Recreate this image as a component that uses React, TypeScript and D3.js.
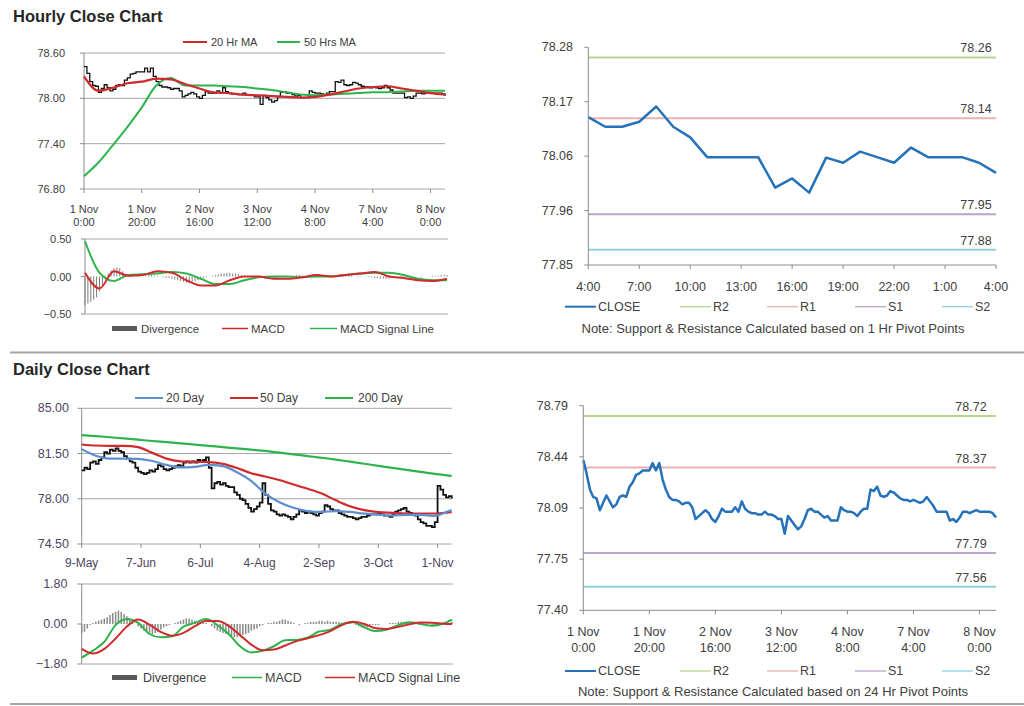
import React from "react";
import * as d3 from "d3";

const FONT = "'Liberation Sans', Arial, Helvetica, sans-serif";
const TXT = "#404040";
const DAILY_TXT = "#4d4560";
const AXIS = "#8c8c8c";
const GRID = "#a6a6a6";
const RED = "#cf2a2c";
const GREEN = "#2fb34d";
const BLUE_MA = "#5d8fd0";
const CLOSE_BLUE = "#2672ba";
const DIV_GRAY = "#7a7a7a";

// ---------------- Hourly (1 Nov 0:00 -> 8 Nov ~5:00), one value per hour ----------------
const hourlyTickLabels = [
  ["1 Nov", "0:00"], ["1 Nov", "20:00"], ["2 Nov", "16:00"], ["3 Nov", "12:00"],
  ["4 Nov", "8:00"], ["7 Nov", "4:00"], ["8 Nov", "0:00"],
];
const hourlyTickEvery = 20;
const hourlyYTicks = [76.8, 77.4, 78.0, 78.6];
const hourlyMacdTicks = [-0.5, 0, 0.5];

const hourlyClose = [
  78.42, 78.33, 78.22, 78.17, 78.16, 78.08, 78.13, 78.18, 78.14, 78.10,
  78.12, 78.17, 78.18, 78.17, 78.24, 78.27, 78.32, 78.33, 78.35, 78.35,
  78.35, 78.40, 78.35, 78.40, 78.29, 78.22, 78.17, 78.15, 78.15, 78.14,
  78.12, 78.13, 78.13, 78.10, 78.02, 78.04, 78.06, 78.08, 78.06, 78.02,
  78.00, 78.04, 78.09, 78.07, 78.07, 78.07, 78.10, 78.07, 78.14, 78.09,
  78.07, 78.06, 78.06, 78.05, 78.05, 78.07, 78.05, 78.05, 78.04, 78.02,
  78.02, 77.92, 78.04, 78.01, 77.98, 77.95, 77.97, 78.02, 78.08, 78.09,
  78.07, 78.07, 78.05, 78.03, 78.04, 78.01, 78.01, 78.01, 78.10, 78.08,
  78.07, 78.07, 78.06, 78.04, 78.07, 78.09, 78.09, 78.22, 78.21, 78.24,
  78.18, 78.17, 78.18, 78.21, 78.20, 78.18, 78.16, 78.15, 78.15, 78.14,
  78.15, 78.14, 78.13, 78.14, 78.17, 78.14, 78.11, 78.07, 78.07, 78.07,
  78.07, 78.01, 78.02, 78.00, 78.03, 78.07, 78.07, 78.06, 78.07, 78.08,
  78.07, 78.07, 78.07, 78.07, 78.06, 78.03,
];

// moving averages / MACD lines sampled every 5 hours
const hourlyLineStep = 5;
const hourlyMa20 = [
  78.29, 78.10, 78.14, 78.20, 78.22, 78.26, 78.25, 78.19, 78.13, 78.08,
  78.07, 78.05, 78.04, 78.03, 78.02, 78.01, 78.02, 78.05, 78.09, 78.13,
  78.15, 78.16, 78.13, 78.10, 78.07, 78.05,
];
const hourlyMa50 = [
  76.97, 77.15, 77.38, 77.62, 77.88, 78.17, 78.27, 78.17, 78.17, 78.17,
  78.16, 78.15, 78.13, 78.11, 78.08, 78.05, 78.04, 78.05, 78.06, 78.07,
  78.08, 78.08, 78.09, 78.10, 78.10, 78.10,
];
const hourlyMacd = [
  0.05, -0.16, 0.07, 0.01, 0.02, 0.07, 0.05, -0.05, -0.12, -0.12,
  -0.05, 0.0, 0.0, -0.03, -0.03, -0.01, 0.02, 0.0, 0.02, 0.04,
  0.06, 0.0, -0.02, -0.05, -0.06, -0.03,
];
const hourlySignal = [
  0.47, 0.05, -0.06, 0.02, 0.03, 0.04, 0.06, 0.04, -0.03, -0.10,
  -0.10, -0.05, -0.01, 0.0, 0.0, -0.01, 0.0, 0.0, 0.02, 0.04,
  0.05, 0.05, 0.02, -0.03, -0.05, -0.05,
];
const hourlyDivergence = [
  -0.38, -0.36, -0.34, -0.31, -0.28, -0.20, -0.12,
  -0.04, 0.04, 0.08, 0.11, 0.12, 0.11, 0.07,
  0.03, 0.01, -0.01, 0.0, 0.01, 0.01, 0.0,
  0.01, 0.02, 0.02, 0.01, 0.01, 0.0, -0.01,
  -0.02, -0.02, -0.03, -0.04, -0.05, -0.06, -0.07,
  -0.08, -0.08, -0.07, -0.06, -0.05, -0.04, -0.02,
  -0.01, 0.0, 0.01, 0.02, 0.03, 0.04, 0.04,
  0.05, 0.05, 0.04, 0.04, 0.03, 0.02, 0.01,
  0.0, 0.0, -0.01, -0.01, -0.02, -0.02, -0.03,
  -0.03, -0.03, -0.02, -0.02, -0.01, -0.01, 0.0,
  0.0, 0.01, 0.01, 0.02, 0.02, 0.01, 0.01,
  0.0, 0.01, 0.01, 0.0, 0.0, 0.01, 0.01,
  0.0, 0.01, 0.01, 0.02, 0.02, 0.02, 0.02,
  0.01, 0.01, 0.0, 0.01, 0.01, 0.0, 0.0,
  -0.01, -0.01, -0.02, -0.02, -0.03, -0.03, -0.03,
  -0.03, -0.02, -0.02, -0.02, -0.01, -0.01, -0.01,
  -0.01, 0.0, 0.0, 0.0, -0.01, 0.0, 0.0,
  0.0, 0.01, 0.01, 0.01, 0.02, 0.02, 0.02,
];

// ---------------- Last 24 hours (1 Hr pivots) ----------------
const last24TickLabels = ["4:00", "7:00", "10:00", "13:00", "16:00", "19:00", "22:00", "1:00", "4:00"];
const last24TickEvery = 3;
const last24Close = [
  78.142, 78.123, 78.123, 78.133, 78.163, 78.123, 78.102, 78.063, 78.063, 78.063,
  78.063, 78.003, 78.021, 77.993, 78.062, 78.052, 78.074, 78.063, 78.052, 78.082,
  78.063, 78.063, 78.063, 78.052, 78.032,
];
const last24AxisLabels = ["77.85", "77.96", "78.06", "78.17", "78.28"];
const last24Domain = [77.85, 78.28];

const pivotNames = ["R2", "R1", "S1", "S2"];
const pivotColors = ["#b7d58e", "#eab2b1", "#b9a5cd", "#8fd0df"];
const pivot1hValues = [78.26, 78.14, 77.95, 77.88];
const pivot24hValues = [78.72, 78.37, 77.79, 77.56];

// ---------------- 24 Hr pivot chart (hourly closes, same week) ----------------
const week24AxisLabels = ["77.40", "77.75", "78.09", "78.44", "78.79"];
const week24Domain = [77.4, 78.79];

// ---------------- Daily (9 May -> 8 Nov, trading days) ----------------
const dailyTickLabels = ["9-May", "7-Jun", "6-Jul", "4-Aug", "2-Sep", "3-Oct", "1-Nov"];
const dailyTickEvery = 21;
const dailyYTicks = [74.5, 78.0, 81.5, 85.0];
const dailyMacdTicks = [-1.8, 0, 1.8];

const dailyClose = [
  80.2, 80.4, 80.3, 80.8, 80.9, 80.7, 81.0, 81.2, 81.6, 81.5,
  81.8, 81.7, 81.9, 81.7, 81.6, 81.3, 81.1, 80.9, 80.8, 80.4,
  80.1, 80.0, 79.9, 80.0, 80.2, 80.1, 80.3, 80.6, 80.5, 80.3,
  80.2, 80.3, 80.4, 80.5, 80.6, 80.5, 80.8, 80.9, 80.8, 80.9,
  80.8, 81.0, 80.9, 81.0, 81.2, 80.4, 78.8, 79.2, 79.3, 79.1,
  79.2, 79.0, 78.9, 78.9, 78.5, 78.3, 78.0, 77.9, 77.6, 77.3,
  77.0, 77.2, 77.4, 77.7, 79.2, 78.3, 77.6, 77.1, 77.0, 76.8,
  76.7, 76.8, 76.7, 76.6, 76.4, 76.6, 76.8, 77.1, 77.0, 76.9,
  77.0, 76.9, 76.8, 76.7, 76.9, 77.0, 77.5, 77.4, 77.2, 77.1,
  77.1, 76.9, 76.8, 76.7, 76.6, 76.6, 76.5, 76.4, 76.5, 76.6,
  76.6, 76.7, 76.8, 76.8, 76.8, 76.9, 76.8, 76.7, 76.7, 76.6,
  76.8, 77.0, 77.1, 77.2, 77.3, 77.0, 76.9, 76.8, 76.7, 76.4,
  76.2, 76.1, 75.9, 75.9, 75.8, 76.2, 79.0, 78.7, 78.3, 78.1,
  78.2, 78.0,
];

// moving averages at trading days 0,5,...,130 and 131
const dailyMaDays = [0, 5, 10, 15, 20, 25, 30, 35, 40, 45, 50, 55, 60, 65, 70, 75, 80, 85, 90, 95, 100, 105, 110, 115, 120, 125, 130, 131];
const daily20 = [
  81.84, 81.33, 81.11, 81.11, 81.08, 80.92, 80.62, 80.43, 80.47, 80.63,
  80.52, 80.05, 79.38, 78.40, 77.73, 77.30, 77.05, 76.98, 77.05, 76.98,
  76.85, 76.77, 76.70, 76.76, 76.76, 76.68, 77.05, 77.12,
];
const daily50 = [
  82.20, 82.12, 82.10, 82.10, 82.00, 81.55, 81.11, 80.90, 80.85, 80.84,
  80.70, 80.38, 79.98, 79.72, 79.45, 79.10, 78.77, 78.40, 77.88, 77.42,
  77.12, 76.97, 76.91, 76.86, 76.86, 76.86, 76.95, 76.97,
];
const daily200 = [
  82.93, 82.85, 82.76, 82.67, 82.57, 82.47, 82.38, 82.29, 82.19, 82.10,
  81.99, 81.90, 81.80, 81.70, 81.57, 81.44, 81.30, 81.17, 81.03, 80.87,
  80.71, 80.55, 80.39, 80.24, 80.08, 79.93, 79.79, 79.76,
];

// daily MACD at trading days 0,4,...,128 and 131
const dailyMacdDays = [0, 4, 8, 12, 16, 20, 24, 28, 32, 36, 40, 44, 48, 52, 56, 60, 64, 68, 72, 76, 80, 84, 88, 92, 96, 100, 104, 108, 112, 116, 120, 124, 128, 131];
const dailyMacd = [
  -1.51, -1.20, -0.80, -0.05, 0.22, 0.05, -0.45, -0.60, -0.55, -0.12,
  0.05, 0.22, -0.05, -0.45, -1.00, -1.28, -1.20, -1.00, -0.73, -0.72,
  -0.60, -0.34, -0.26, 0.0, 0.08, -0.15, -0.32, -0.25, -0.05, 0.08,
  0.0, -0.08, 0.02, 0.20,
];
const dailySignal = [
  -1.12, -1.33, -1.12, -0.65, -0.11, 0.20, -0.03, -0.36, -0.53, -0.40,
  -0.10, 0.14, 0.13, -0.08, -0.50, -0.93, -1.18, -1.15, -0.97, -0.77,
  -0.64, -0.50, -0.32, -0.05, 0.10, 0.0, -0.19, -0.22, -0.13, -0.01,
  0.07, 0.06, 0.01, 0.0,
];
const dailyDivergence = [
  -0.4, -0.35, -0.2, -0.05, 0.05, 0.1, 0.15, 0.2, 0.25, 0.3,
  0.4, 0.5, 0.55, 0.6, 0.55, 0.45, 0.35, 0.2, 0.1, 0.0,
  -0.1, -0.2, -0.3, -0.35, -0.4, -0.45, -0.4, -0.35, -0.25, -0.15,
  -0.1, -0.05, 0.0, 0.05, 0.1, 0.15, 0.2, 0.25, 0.25, 0.2,
  0.15, 0.1, 0.1, 0.05, 0.05, 0.0, -0.1, -0.2, -0.3, -0.35,
  -0.4, -0.45, -0.5, -0.55, -0.6, -0.6, -0.55, -0.5, -0.45, -0.4,
  -0.3, -0.25, -0.2, -0.1, -0.05, 0.0, 0.05, 0.05, 0.1, 0.1,
  0.15, 0.2, 0.2, 0.15, 0.1, 0.05, 0.0, -0.05, 0.0, 0.05,
  0.05, 0.1, 0.1, 0.1, 0.15, 0.15, 0.1, 0.15, 0.1, 0.1,
  0.1, 0.1, 0.05, 0.05, 0.05, 0.05, 0.0, -0.05, -0.1, -0.15,
  -0.15, -0.15, -0.1, -0.05, -0.05, -0.05, 0.0, 0.0, 0.0, 0.05,
  0.05, 0.05, 0.1, 0.1, 0.1, 0.1, 0.05, 0.05, 0.0, 0.0,
  -0.05, -0.05, 0.0, 0.0, -0.05, -0.1, 0.05, 0.0, 0.05, 0.0,
  0.05, 0.1,
];

// ---------------- helpers ----------------
type Scale = d3.ScaleLinear<number, number>;

function path(xs: number[], ys: number[], x: Scale, y: Scale, curve: d3.CurveFactory = d3.curveLinear) {
  const pts: [number, number][] = ys.map((v, i) => [xs[i], v]);
  return d3.line<[number, number]>().x((d) => x(d[0])).y((d) => y(d[1])).curve(curve)(pts) || "";
}
const idx = (arr: number[], step = 1) => arr.map((_, i) => i * step);

function LegendLine({ x1, x2, y, color, label, tx, size, width = 2 }: any) {
  return (
    <g>
      <line x1={x1} x2={x2} y1={y} y2={y} stroke={color} strokeWidth={width} />
      <text x={tx} y={y} dominantBaseline="central" fontSize={size} fill={TXT}>{label}</text>
    </g>
  );
}

function LeftYAxis({ x, y, ticks, labelX, size, fmt, grid, gridX2, color = TXT }: any) {
  const [r0, r1] = y.range();
  return (
    <g>
      {ticks.map((t: number) => (
        grid ? <line key={"g" + t} x1={x} x2={gridX2} y1={y(t)} y2={y(t)} stroke={GRID} strokeWidth={1} /> : null
      ))}
      <line x1={x} x2={x} y1={Math.min(r0, r1)} y2={Math.max(r0, r1)} stroke={AXIS} strokeWidth={1} />
      {ticks.map((t: number, i: number) => (
        <g key={t}>
          <line x1={x - 4} x2={x} y1={y(t)} y2={y(t)} stroke={AXIS} strokeWidth={1} />
          <text x={labelX} y={y(t)} textAnchor="end" dominantBaseline="central" fontSize={size} fill={color}>
            {typeof fmt === "function" ? fmt(t, i) : d3.format(".2f")(t)}
          </text>
        </g>
      ))}
    </g>
  );
}

function PivotPanel({ x0, x1, yTop, yBot, domain, axisLabels, closeVals, lastIdx, tickEvery, tickLabels, twoLine, pivots, labelCx, legendY, noteY, note, labelX, xLabelY }: any) {
  const x = d3.scaleLinear().domain([0, lastIdx]).range([x0, x1]);
  const y = d3.scaleLinear().domain(domain).range([yBot, yTop]);
  const step = (domain[1] - domain[0]) / (axisLabels.length - 1);
  const tickVals = axisLabels.map((_: string, i: number) => domain[0] + i * step);
  const xt = d3.range(0, lastIdx + 1, tickEvery);
  const size = 12.5;
  const legend = [
    { name: "CLOSE", color: CLOSE_BLUE, w: 2 },
    ...pivotNames.map((n, i) => ({ name: n, color: pivotColors[i], w: 1.3 })),
  ];
  const legX = [565, 680, 767, 855, 942];
  return (
    <g>
      {pivots.map((v: number, i: number) => (
        <g key={pivotNames[i]}>
          <line x1={x0} x2={x1} y1={y(v)} y2={y(v)} stroke={pivotColors[i]} strokeWidth={2} />
          <text x={labelCx} y={y(v) - 9} textAnchor="middle" dominantBaseline="central" fontSize={size} fill={TXT}>
            {v.toFixed(2)}
          </text>
        </g>
      ))}
      <path d={path(idx(closeVals), closeVals, x, y)} fill="none" stroke={CLOSE_BLUE} strokeWidth={2.5} strokeLinejoin="round" />
      <LeftYAxis x={x0} y={y} ticks={tickVals} labelX={labelX} size={size} fmt={(_: number, i: number) => axisLabels[i]} />
      <line x1={x0} x2={x1} y1={yBot} y2={yBot} stroke={AXIS} strokeWidth={1} />
      {xt.map((t: number, i: number) => (
        <g key={t}>
          <line x1={x(t)} x2={x(t)} y1={yBot} y2={yBot + 4} stroke={AXIS} strokeWidth={1} />
          {twoLine ? (
            <>
              <text x={x(t)} y={xLabelY} textAnchor="middle" dominantBaseline="central" fontSize={size} fill={TXT}>{tickLabels[i][0]}</text>
              <text x={x(t)} y={xLabelY + 16} textAnchor="middle" dominantBaseline="central" fontSize={size} fill={TXT}>{tickLabels[i][1]}</text>
            </>
          ) : (
            <text x={x(t)} y={xLabelY} textAnchor="middle" dominantBaseline="central" fontSize={size} fill={TXT}>{tickLabels[i]}</text>
          )}
        </g>
      ))}
      {legend.map((l, i) => (
        <LegendLine key={l.name} x1={legX[i]} x2={legX[i] + 31} y={legendY} color={l.color} label={l.name} tx={legX[i] + 33} size={size} width={l.w} />
      ))}
      <text x={773} y={noteY} textAnchor="middle" dominantBaseline="central" fontSize={13} fill={TXT}>{note}</text>
    </g>
  );
}

export default function App() {
  // hourly price
  const hx = d3.scaleLinear().domain([0, hourlyClose.length - 1]).range([84, 445]);
  const hy = d3.scaleLinear().domain([76.8, 78.6]).range([189, 53]);
  const hTicks = d3.range(0, hourlyClose.length, hourlyTickEvery);
  // hourly MACD
  const mx = d3.scaleLinear().domain([0, hourlyClose.length - 1]).range([85, 447]);
  const my = d3.scaleLinear().domain([-0.5, 0.5]).range([314, 239]);
  // daily
  const dx = d3.scaleLinear().domain([0, dailyClose.length - 1]).range([81.7, 451.7]);
  const dy = d3.scaleLinear().domain([74.5, 85]).range([544, 408.3]);
  const dTicks = d3.range(0, dailyClose.length, dailyTickEvery);
  const ddx = d3.scaleLinear().domain([0, dailyClose.length - 1]).range([81.7, 452]);
  const ddy = d3.scaleLinear().domain([-1.8, 1.8]).range([664, 584]);

  const hStep = idx(hourlyMa20, hourlyLineStep);
  const smooth = d3.curveMonotoneX;

  return (
    <svg width={1024} height={706} style={{ position: "absolute", left: 0, top: 0, fontFamily: FONT, background: "#fff" }}>
      <rect width={1024} height={706} fill="#ffffff" />
      {/* titles */}
      <text x={13} y={16} dominantBaseline="central" fontSize={16.5} fontWeight="bold" fill="#262626">Hourly Close Chart</text>
      <text x={13} y={369} dominantBaseline="central" fontSize={16.5} fontWeight="bold" fill="#262626">Daily Close Chart</text>
      {/* separators */}
      <line x1={10} x2={1024} y1={352.5} y2={352.5} stroke="#a6a6a6" strokeWidth={2} />
      <line x1={10} x2={1024} y1={704} y2={704} stroke="#a6a6a6" strokeWidth={2} />

      {/* ===== Hourly price chart ===== */}
      <LeftYAxis x={84} y={hy} ticks={hourlyYTicks} labelX={65} size={11} grid gridX2={445} />
      {hTicks.map((t, i) => (
        <g key={t}>
          <line x1={hx(t)} x2={hx(t)} y1={189} y2={193} stroke={AXIS} />
          <text x={hx(t)} y={209} textAnchor="middle" dominantBaseline="central" fontSize={11} fill={TXT}>{hourlyTickLabels[i][0]}</text>
          <text x={hx(t)} y={222} textAnchor="middle" dominantBaseline="central" fontSize={11} fill={TXT}>{hourlyTickLabels[i][1]}</text>
        </g>
      ))}
      <path d={path(idx(hourlyClose), hourlyClose, hx, hy, d3.curveStepAfter)} fill="none" stroke="#111" strokeWidth={1.3} />
      <path d={path(hStep, hourlyMa50, hx, hy, smooth)} fill="none" stroke={GREEN} strokeWidth={2} />
      <path d={path(hStep, hourlyMa20, hx, hy, smooth)} fill="none" stroke={RED} strokeWidth={2.2} />
      <LegendLine x1={183} x2={207} y={42} color={RED} label="20 Hr MA" tx={211} size={11} />
      <LegendLine x1={277} x2={300} y={42} color={GREEN} label="50 Hrs MA" tx={304} size={11} />

      {/* ===== Hourly MACD ===== */}
      <line x1={85} x2={448} y1={my(0.5)} y2={my(0.5)} stroke={GRID} />
      <line x1={85} x2={448} y1={my(-0.5)} y2={my(-0.5)} stroke={GRID} />
      {hourlyDivergence.map((v, i) => (
        <line key={i} x1={mx(i)} x2={mx(i)} y1={my(0)} y2={my(v)} stroke={DIV_GRAY} strokeWidth={1} />
      ))}
      <LeftYAxis x={85} y={my} ticks={hourlyMacdTicks} labelX={71.5} size={11} />
      <path d={path(hStep, hourlySignal, mx, my, smooth)} fill="none" stroke={GREEN} strokeWidth={2} />
      <path d={path(hStep, hourlyMacd, mx, my, smooth)} fill="none" stroke={RED} strokeWidth={2} />
      <rect x={112} y={326} width={25} height={5} fill="#595959" />
      <text x={141} y={328.5} dominantBaseline="central" fontSize={11.5} fill={TXT}>Divergence</text>
      <LegendLine x1={222} x2={248} y={328.5} color={RED} label="MACD" tx={251} size={11.5} width={1.5} />
      <LegendLine x1={310} x2={337} y={328.5} color={GREEN} label="MACD Signal Line" tx={340} size={11.5} width={1.5} />

      {/* ===== Daily price chart ===== */}
      <LeftYAxis x={81.7} y={dy} ticks={dailyYTicks} labelX={69} size={12.5} grid gridX2={451.7} color={DAILY_TXT} />
      {dTicks.map((t, i) => (
        <g key={t}>
          <line x1={dx(t)} x2={dx(t)} y1={544} y2={548} stroke={AXIS} />
          <text x={dx(t)} y={563} textAnchor="middle" dominantBaseline="central" fontSize={12} fill={DAILY_TXT}>{dailyTickLabels[i]}</text>
        </g>
      ))}
      <path d={path(idx(dailyClose), dailyClose, dx, dy, d3.curveStepAfter)} fill="none" stroke="#111" strokeWidth={1.8} />
      <path d={path(dailyMaDays, daily200, dx, dy, smooth)} fill="none" stroke={GREEN} strokeWidth={2.2} />
      <path d={path(dailyMaDays, daily50, dx, dy, smooth)} fill="none" stroke={RED} strokeWidth={2.2} />
      <path d={path(dailyMaDays, daily20, dx, dy, smooth)} fill="none" stroke={BLUE_MA} strokeWidth={2.2} />
      <LegendLine x1={135} x2={163} y={398} color={BLUE_MA} label="20 Day" tx={166} size={12} />
      <LegendLine x1={230} x2={258} y={398} color={RED} label="50 Day" tx={260} size={12} />
      <LegendLine x1={325} x2={353} y={398} color={GREEN} label="200 Day" tx={358} size={12} />

      {/* ===== Daily MACD ===== */}
      <line x1={81.7} x2={453} y1={ddy(1.8)} y2={ddy(1.8)} stroke={GRID} />
      <line x1={81.7} x2={453} y1={ddy(-1.8)} y2={ddy(-1.8)} stroke={GRID} />
      {dailyDivergence.map((v, i) => (
        <line key={i} x1={ddx(i)} x2={ddx(i)} y1={ddy(0)} y2={ddy(v)} stroke="#8a8a8a" strokeWidth={1.5} />
      ))}
      <LeftYAxis x={81.7} y={ddy} ticks={dailyMacdTicks} labelX={67.5} size={12.5} color={DAILY_TXT} />
      <path d={path(dailyMacdDays, dailyMacd, ddx, ddy, smooth)} fill="none" stroke={GREEN} strokeWidth={2} />
      <path d={path(dailyMacdDays, dailySignal, ddx, ddy, smooth)} fill="none" stroke={RED} strokeWidth={2} />
      <rect x={112} y={675} width={25} height={5} fill="#595959" />
      <text x={143} y={677.5} dominantBaseline="central" fontSize={12.5} fill={TXT}>Divergence</text>
      <LegendLine x1={232} x2={262} y={677.5} color={GREEN} label="MACD" tx={265} size={12.5} width={1.5} />
      <LegendLine x1={325} x2={355} y={677.5} color={RED} label="MACD Signal Line" tx={358} size={12.5} width={1.5} />

      {/* ===== 1 Hr pivot chart ===== */}
      <PivotPanel
        x0={588.3} x1={996} yTop={47.3} yBot={265} domain={last24Domain} axisLabels={last24AxisLabels}
        closeVals={last24Close} lastIdx={last24Close.length - 1} tickEvery={last24TickEvery} tickLabels={last24TickLabels}
        twoLine={false} pivots={pivot1hValues} labelCx={976} legendY={306.7} noteY={328} labelX={573} xLabelY={286.7}
        note="Note: Support & Resistance Calculated based on 1 Hr Pivot Points"
      />

      {/* ===== 24 Hr pivot chart ===== */}
      <PivotPanel
        x0={583.3} x1={996} yTop={405.7} yBot={610.3} domain={week24Domain} axisLabels={week24AxisLabels}
        closeVals={hourlyClose} lastIdx={hourlyClose.length - 1} tickEvery={hourlyTickEvery} tickLabels={hourlyTickLabels}
        twoLine={true} pivots={pivot24hValues} labelCx={971} legendY={671} noteY={691} labelX={568} xLabelY={632}
        note="Note: Support & Resistance Calculated based on 24 Hr Pivot Points"
      />
    </svg>
  );
}
